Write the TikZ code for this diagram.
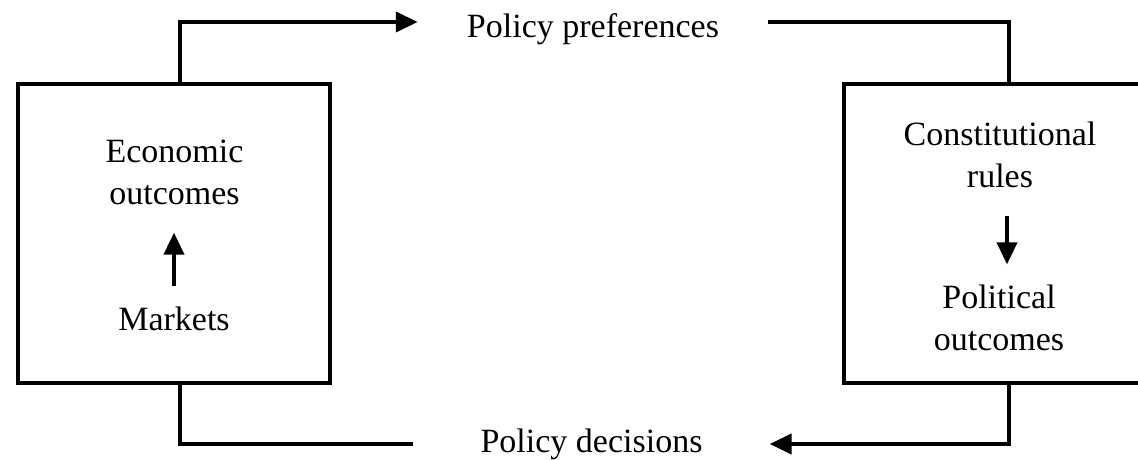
\documentclass[tikz,border=0pt]{standalone}
\usepackage{fontspec}
\setmainfont{Liberation Serif}
\usetikzlibrary{arrows.meta,positioning,calc}
\tikzset{>={Triangle[length=22pt,width=20pt]},
  box/.style={draw,line width=4pt,minimum width=#1,minimum height=299pt,inner sep=0pt},
  lbl/.style={align=center,inner sep=0pt,font=\fontsize{34}{42}\selectfont},
  flow/.style={line width=4pt}}

\begin{document}
\begin{tikzpicture}[x=1pt,y=-1pt]
\useasboundingbox (0,0) rectangle (1138,460);
\clip (0,0) rectangle (1138,460);

% Kaesten
\node[box=312pt] (econbox) at (174,233.5) {};
\node[box=330pt] (polbox) at (1009,233.5) {};

% Texte in den Kaesten
\node[lbl] (econ) at (174.5,172) {Economic\\outcomes};
\node[lbl] (mkt) at (174,318.5) {Markets};
\node[lbl] (const) at (1000,155) {Constitutional\\rules};
\node[lbl] (pol) at (999,317.5) {Political\\outcomes};

% Beschriftung der Kreislaufpfeile
\node[lbl,inner xsep=49pt] (pref) at (593,29) {Policy preferences};
\node[lbl,inner xsep=67pt] (dec) at (591.5,444) {Policy decisions};
\coordinate (top) at (0,22);
\coordinate (bot) at (0,444);

% Kreislauf
\draw[flow,->] ([xshift=6pt]econbox.north) |- (pref.west |- top);
\draw[flow] (pref.east |- top) -| (polbox.north);
\draw[flow,->] (polbox.south) |- (dec.east |- bot);
\draw[flow] ([xshift=6pt]econbox.south) |- (dec.west |- bot);

% innere Pfeile
\draw[flow,->,shorten <=20pt,shorten >=28pt] (mkt.north) -- (mkt.north |- econ.south);
\draw[flow,->,shorten <=28pt,shorten >=20pt] ([xshift=7pt]const.south) -- ([xshift=7pt]const.south |- pol.north);

\end{tikzpicture}
\end{document}
